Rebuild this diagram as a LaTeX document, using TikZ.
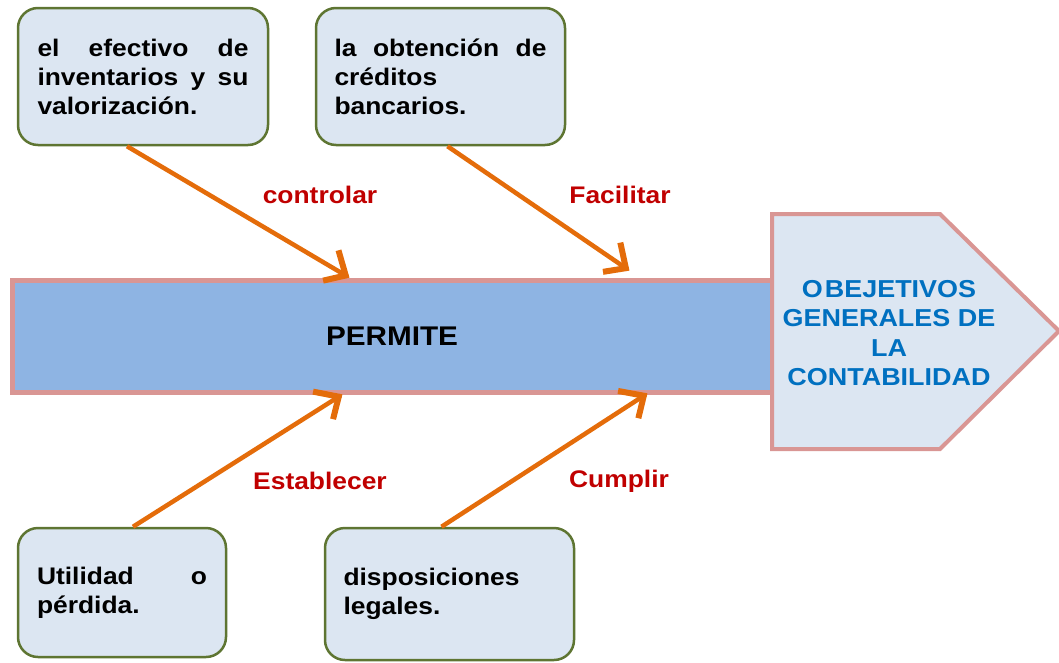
\documentclass[tikz,border=0pt]{standalone}
\usepackage{fontspec}
\setmainfont{Liberation Sans}[FakeStretch=1.1]
\usetikzlibrary{decorations.markings}
\definecolor{boxfill}{RGB}{220,230,242}
\definecolor{boxline}{RGB}{94,117,50}
\definecolor{pinkline}{RGB}{217,150,148}
\definecolor{bandfill}{RGB}{142,180,227}
\definecolor{arrowc}{RGB}{228,108,10}
\definecolor{labelc}{RGB}{192,0,0}
\definecolor{titlec}{RGB}{0,112,192}
\begin{document}
\begin{tikzpicture}[x=1pt,y=-1pt,
  infobox/.style={draw=boxline, line width=2.5pt, fill=boxfill, rounded corners=20pt,
    inner sep=0pt, font=\bfseries\fontsize{24}{29}\selectfont, align=justify},
  bandbox/.style={draw=pinkline, line width=5pt, fill=bandfill, inner sep=0pt,
    minimum width=760pt, minimum height=112pt, font=\bfseries\fontsize{27}{30}\selectfont},
  pent/.style={draw=pinkline, line width=4pt, fill=boxfill, line join=miter},
  titletxt/.style={text=titlec, font=\bfseries\fontsize{24.5}{29.5}\selectfont, align=center, inner sep=0pt},
  lbl/.style={text=labelc, font=\bfseries\fontsize{24}{28}\selectfont, inner sep=0pt},
  arr/.style={draw=arrowc, line width=4.5pt, shorten >=3pt, postaction={decorate},
    decoration={markings, mark=at position 1 with {
      \draw[arrowc, line width=6pt, line join=miter, line cap=butt]
        (-24pt,18pt) -- (-5pt,0pt) -- (-24pt,-18pt);}}}
]
\useasboundingbox (0,0) rectangle (1059,662);
\hyphenpenalty=10000

% band
\node[bandbox] (band) at (392,336.5) {PERMITE};

% pentagon
\draw[pent] (772,214) -- (940,214) -- (1059,331) -- (940,449) -- (772,449) -- cycle;
\node[titletxt] (goal) at (889,333) {O\kern2pt BEJETIVOS\\GENERALES DE\\LA\\CONTABILIDAD};

% boxes
\node[infobox, minimum width=250pt, minimum height=137pt, text width=211pt] (b1) at (143,76.5)
  {el efectivo de\linebreak inventarios y su\linebreak valorización.};
\node[infobox, minimum width=249pt, minimum height=137pt, text width=212pt] (b2) at (440.5,76.5)
  {la obtención de\linebreak créditos\\bancarios.};
\node[infobox, minimum width=208pt, minimum height=129pt, text width=170pt] (b3) at (122,592.5)
  {Utilidad o\linebreak pérdida.};
\node[infobox, minimum width=249pt, minimum height=132pt, text width=212pt] (b4) at (449.5,594)
  {disposiciones\\legales.};

% arrow targets
\coordinate (t1) at (350,278);
\coordinate (t2) at (630,271);
\coordinate (t3) at (343,394);
\coordinate (t4) at (648,393);

\draw[arr] ([xshift=-16pt]b1.south) -- (t1);
\draw[arr] ([xshift=7pt]b2.south) -- (t2);
\draw[arr] ([xshift=11pt]b3.north) -- (t3);
\draw[arr] ([xshift=-8pt]b4.north) -- (t4);

% labels
\node[lbl] (l1) at (320,195) {controlar};
\node[lbl] (l2) at (620,195) {Facilitar};
\node[lbl] (l3) at (320,481) {Establecer};
\node[lbl] (l4) at (619,481) {Cumplir};
\end{tikzpicture}
\end{document}
